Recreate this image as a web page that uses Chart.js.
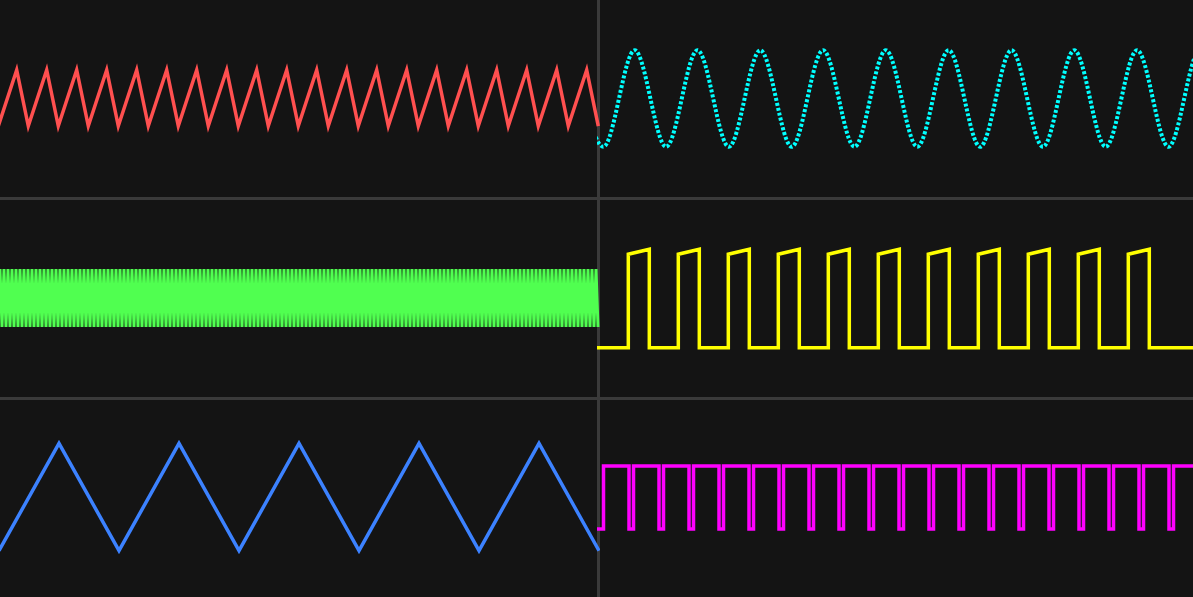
<!DOCTYPE html>
<html><head><meta charset="utf-8">
<script src="https://cdn.jsdelivr.net/npm/chart.js@4/dist/chart.umd.min.js"></script>
<style>
html,body{margin:0;padding:0;background:#141414;overflow:hidden;width:1193px;height:597px;}
.sep{position:absolute;background:#3a3a3a;}
canvas{position:absolute;}
</style></head><body>
<div class="sep" style="left:597px;top:0;width:3px;height:597px"></div>
<div class="sep" style="left:0;top:197px;width:1193px;height:3px"></div>
<div class="sep" style="left:0;top:397px;width:1193px;height:3px"></div>
<canvas id="c0" width="600" height="197" style="left:0;top:0"></canvas>
<canvas id="c1" width="596" height="197" style="left:597px;top:0"></canvas>
<canvas id="c2" width="600" height="197" style="left:0;top:200px"></canvas>
<canvas id="c3" width="596" height="197" style="left:597px;top:200px"></canvas>
<canvas id="c4" width="600" height="197" style="left:0;top:400px"></canvas>
<canvas id="c5" width="596" height="197" style="left:597px;top:400px"></canvas>
<script>
// time axis in ms per panel
const leftSpan = 60;
const rightSpan = 59.6;

// Red: asymmetric ramp (troughs / peaks)
const redTroughs = [-0.17, 2.83, 5.83, 8.83, 11.83, 14.83, 17.83, 20.83, 23.83, 26.83, 29.83, 32.83, 35.83, 38.83, 41.83, 44.83, 47.83, 50.83, 53.83, 56.83, 59.83];
const redPeaks = [1.67, 4.67, 7.67, 10.67, 13.67, 16.67, 19.67, 22.67, 25.67, 28.67, 31.67, 34.67, 37.67, 40.67, 43.67, 46.67, 49.67, 52.67, 55.67, 58.67];
const redHigh = 0.29, redLow = -0.28;

// Cyan: sine (extrema)
const cyanPeaks = [-2.51, 3.77, 10.05, 16.33, 22.61, 28.89, 35.17, 41.45, 47.73, 54.01, 60.29];
const cyanTroughs = [0.63, 6.91, 13.19, 19.47, 25.75, 32.03, 38.31, 44.59, 50.87, 57.15, 63.43];
const cyanHigh = 0.49, cyanLow = -0.49;

// Green: dense oscillation, one sample every 0.2 ms
const greenDt = 0.2;
const greenValues = [
0.3,-0.29,0.3,-0.29,0.3,-0.29,0.3,-0.29,0.3,-0.29,0.3,-0.29,0.3,-0.29,0.3,-0.29,0.3,-0.29,0.3,-0.29,
0.3,-0.29,0.3,-0.29,0.3,-0.29,0.3,-0.29,0.3,-0.29,0.3,-0.29,0.3,-0.29,0.3,-0.29,0.3,-0.29,0.3,-0.29,
0.3,-0.29,0.3,-0.29,0.3,-0.29,0.3,-0.29,0.3,-0.29,0.3,-0.29,0.3,-0.29,0.3,-0.29,0.3,-0.29,0.3,-0.29,
0.3,-0.29,0.3,-0.29,0.3,-0.29,0.3,-0.29,0.3,-0.29,0.3,-0.29,0.3,-0.29,0.3,-0.29,0.3,-0.29,0.3,-0.29,
0.3,-0.29,0.3,-0.29,0.3,-0.29,0.3,-0.29,0.3,-0.29,0.3,-0.29,0.3,-0.29,0.3,-0.29,0.3,-0.29,0.3,-0.29,
0.3,-0.29,0.3,-0.29,0.3,-0.29,0.3,-0.29,0.3,-0.29,0.3,-0.29,0.3,-0.29,0.3,-0.29,0.3,-0.29,0.3,-0.29,
0.3,-0.29,0.3,-0.29,0.3,-0.29,0.3,-0.29,0.3,-0.29,0.3,-0.29,0.3,-0.29,0.3,-0.29,0.3,-0.29,0.3,-0.29,
0.3,-0.29,0.3,-0.29,0.3,-0.29,0.3,-0.29,0.3,-0.29,0.3,-0.29,0.3,-0.29,0.3,-0.29,0.3,-0.29,0.3,-0.29,
0.3,-0.29,0.3,-0.29,0.3,-0.29,0.3,-0.29,0.3,-0.29,0.3,-0.29,0.3,-0.29,0.3,-0.29,0.3,-0.29,0.3,-0.29,
0.3,-0.29,0.3,-0.29,0.3,-0.29,0.3,-0.29,0.3,-0.29,0.3,-0.29,0.3,-0.29,0.3,-0.29,0.3,-0.29,0.3,-0.29,
0.3,-0.29,0.3,-0.29,0.3,-0.29,0.3,-0.29,0.3,-0.29,0.3,-0.29,0.3,-0.29,0.3,-0.29,0.3,-0.29,0.3,-0.29,
0.3,-0.29,0.3,-0.29,0.3,-0.29,0.3,-0.29,0.3,-0.29,0.3,-0.29,0.3,-0.29,0.3,-0.29,0.3,-0.29,0.3,-0.29,
0.3,-0.29,0.3,-0.29,0.3,-0.29,0.3,-0.29,0.3,-0.29,0.3,-0.29,0.3,-0.29,0.3,-0.29,0.3,-0.29,0.3,-0.29,
0.3,-0.29,0.3,-0.29,0.3,-0.29,0.3,-0.29,0.3,-0.29,0.3,-0.29,0.3,-0.29,0.3,-0.29,0.3,-0.29,0.3,-0.29,
0.3,-0.29,0.3,-0.29,0.3,-0.29,0.3,-0.29,0.3,-0.29,0.3,-0.29,0.3,-0.29,0.3,-0.29,0.3,-0.29,0.3,-0.29
];

// Yellow: pulse train with sloped top
const yellowRise = [3.13, 8.13, 13.13, 18.13, 23.13, 28.13, 33.13, 38.13, 43.13, 48.13, 53.13];
const yellowFall = [5.23, 10.23, 15.23, 20.23, 25.23, 30.23, 35.23, 40.23, 45.23, 50.23, 55.23];
const yellowLow = -0.5, yellowTopStart = 0.45, yellowTopEnd = 0.5;

// Blue: triangle
const blueTroughs = [-0.1, 11.9, 23.9, 35.9, 47.9, 59.9];
const bluePeaks = [5.9, 17.9, 29.9, 41.9, 53.9];
const blueHigh = 0.56, blueLow = -0.53;

// Magenta: square wave with narrow dips
const magentaRise = [0.65, 3.65, 6.65, 9.65, 12.65, 15.65, 18.65, 21.65, 24.65, 27.65, 30.65, 33.65, 36.65, 39.65, 42.65, 45.65, 48.65, 51.65, 54.65, 57.65];
const magentaFall = [3.2, 6.2, 9.2, 12.2, 15.2, 18.2, 21.2, 24.2, 27.2, 30.2, 33.2, 36.2, 39.2, 42.2, 45.2, 48.2, 51.2, 54.2, 57.2];
const magentaHigh = 0.33, magentaLow = -0.31;

function extrema(peaks, troughs, hi, lo) {
  const pts = peaks.map(t => ({x: t, y: hi})).concat(troughs.map(t => ({x: t, y: lo})));
  return pts.sort((a, b) => a.x - b.x);
}
function pulses(rise, fall, lo, hiStart, hiEnd, end) {
  const pts = [{x: 0, y: lo}];
  rise.forEach((r, i) => {
    pts.push({x: r, y: lo}, {x: r, y: hiStart});
    if (i < fall.length) pts.push({x: fall[i], y: hiEnd}, {x: fall[i], y: lo});
    else pts.push({x: end, y: hiEnd});
  });
  if (rise.length === fall.length) pts.push({x: end, y: lo});
  return pts;
}

function makeChart(id, data, color, width, xMax, opts) {
  opts = opts || {};
  new Chart(document.getElementById(id), {
    type: 'line',
    data: {datasets: [{
      data: data, borderColor: color, borderWidth: width,
      borderDash: opts.dash || [], pointRadius: 0, fill: false, tension: 0,
      cubicInterpolationMode: opts.smooth ? 'monotone' : 'default'
    }]},
    options: {
      responsive: false, animation: false, devicePixelRatio: 1, events: [],
      layout: {padding: 0},
      plugins: {legend: {display: false}, tooltip: {enabled: false}},
      scales: {
        x: {type: 'linear', min: 0, max: xMax, display: false},
        y: {min: -1, max: 1, display: false}
      }
    }
  });
}

makeChart('c0', extrema(redPeaks, redTroughs, redHigh, redLow), '#ff5050', 3.5, leftSpan);
makeChart('c1', extrema(cyanPeaks, cyanTroughs, cyanHigh, cyanLow), '#00ffff', 4, rightSpan, {smooth: true, dash: [3, 2]});
makeChart('c2', greenValues.map((v, i) => ({x: i * greenDt, y: v})), '#50ff50', 3, leftSpan);
makeChart('c3', pulses(yellowRise, yellowFall, yellowLow, yellowTopStart, yellowTopEnd, rightSpan), '#ffff00', 3.5, rightSpan);
makeChart('c4', extrema(bluePeaks, blueTroughs, blueHigh, blueLow), '#3c82ff', 3.5, leftSpan);
makeChart('c5', pulses(magentaRise, magentaFall, magentaLow, magentaHigh, magentaHigh, rightSpan), '#ff00ff', 3.5, rightSpan);
</script>
</body></html>
